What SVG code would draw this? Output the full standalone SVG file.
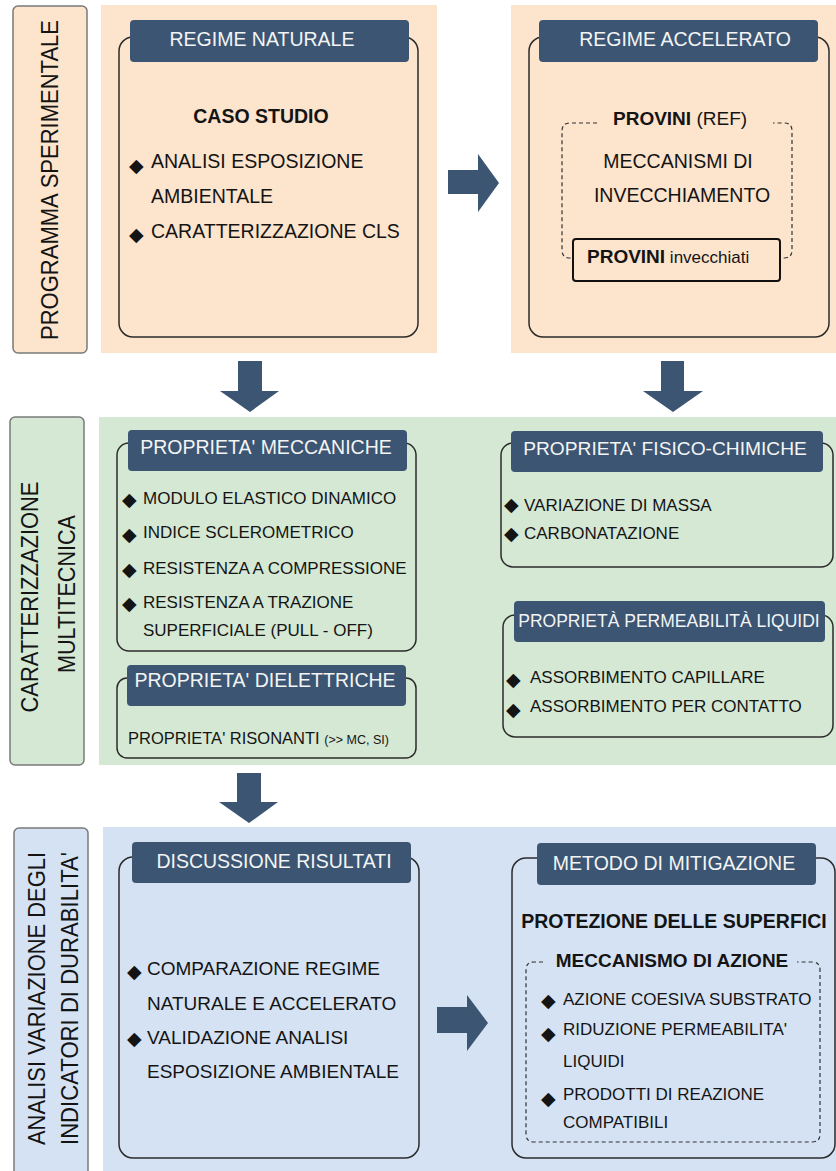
<svg xmlns="http://www.w3.org/2000/svg" width="836" height="1171" viewBox="0 0 836 1171">
<style>
text{font-family:"Liberation Sans",Arial,sans-serif;fill:#141414}
.hd{fill:#3b5573}
.ht{fill:#f4f4f4;font-size:19.5px;text-anchor:middle}
.box{fill:none;stroke:#2b2b2b;stroke-width:1.5}
.lab{stroke:#7a7a7a;stroke-width:1.5}
.vl{font-size:23px}
.b{font-weight:bold}
.f19{font-size:19.5px}
.f17{font-size:17px}
.dia{font-family:"DejaVu Sans",sans-serif;font-size:19px}
.dash{fill:none;stroke:#333;stroke-width:1.2;stroke-dasharray:4 3}
.arr{fill:#3b5573}
.peach{fill:#fde4cd}
.green{fill:#d5e8d4}
.blue{fill:#d5e2f3}
</style>

<!-- background panels -->
<g id="panels">
<rect class="peach" x="101" y="5" width="336" height="348"/>
<rect class="peach" x="511" y="5" width="325" height="348"/>
<rect class="green" x="99" y="417" width="737" height="348"/>
<rect class="blue" x="103" y="827" width="733" height="350"/>
</g>

<!-- section labels -->
<g id="label-programma">
<rect class="peach lab" x="13" y="6" width="74" height="347" rx="5"/>
<text class="vl" transform="translate(58,180) rotate(-90)" text-anchor="middle" textLength="320" lengthAdjust="spacingAndGlyphs">PROGRAMMA SPERIMENTALE</text>
</g>
<g id="label-caratterizzazione">
<rect class="green lab" x="10" y="417" width="74" height="348" rx="5"/>
<text class="vl" transform="translate(38,597) rotate(-90)" text-anchor="middle" textLength="231" lengthAdjust="spacingAndGlyphs">CARATTERIZZAZIONE</text>
<text class="vl" transform="translate(75,594) rotate(-90)" text-anchor="middle" textLength="158" lengthAdjust="spacingAndGlyphs">MULTITECNICA</text>
</g>
<g id="label-analisi">
<rect class="blue lab" x="14" y="828" width="74" height="360" rx="5"/>
<text class="vl" transform="translate(45,998.5) rotate(-90)" text-anchor="middle" textLength="293" lengthAdjust="spacingAndGlyphs">ANALISI VARIAZIONE DEGLI</text>
<text class="vl" transform="translate(78,998.5) rotate(-90)" text-anchor="middle" textLength="293" lengthAdjust="spacingAndGlyphs">INDICATORI DI DURABILITA'</text>
</g>

<!-- connectors -->
<g id="connectors">
<polygon class="arr" points="448,170 478,170 478,154 499,183 478,212 478,194 448,194"/>
<polygon class="arr" points="238,361 262,361 262,391 279,391 250,412 220,391 238,391"/>
<polygon class="arr" points="661,361 684,361 684,391 703,391 673,412 643,391 661,391"/>
<polygon class="arr" points="237,773 261,773 261,802 278,802 249,823 219,802 237,802"/>
<polygon class="arr" points="437,1007 467,1007 467,995 488,1023 467,1051 467,1033 437,1033"/>
</g>

<!-- REGIME NATURALE -->
<g id="regime-naturale">
<rect class="box" x="119" y="37" width="299" height="300" rx="14"/>
<rect class="hd" x="130" y="20" width="279" height="42" rx="4"/>
<text class="ht" x="262" y="46">REGIME NATURALE</text>
<text class="f19 b" x="261" y="123" text-anchor="middle">CASO STUDIO</text>
<text class="dia" x="129" y="172">◆</text>
<text class="f19" x="151" y="168">ANALISI ESPOSIZIONE</text>
<text class="f19" x="151" y="203">AMBIENTALE</text>
<text class="dia" x="129" y="241">◆</text>
<text class="f19" x="151" y="238">CARATTERIZZAZIONE CLS</text>
</g>

<!-- REGIME ACCELERATO -->
<g id="regime-accelerato">
<rect class="box" x="529" y="37" width="300" height="300" rx="14"/>
<rect class="hd" x="539" y="20" width="279" height="42" rx="4"/>
<text class="ht" x="685" y="46">REGIME ACCELERATO</text>
<path class="dash" d="M597,123 H570 Q562,123 562,131 V250 Q562,258 570,258 H784 Q792,258 792,250 V131 Q792,123 784,123 H773"/>
<text x="613" y="125" style="font-size:19px"><tspan class="b">PROVINI</tspan> (REF)</text>
<text class="f19" x="678" y="168" text-anchor="middle">MECCANISMI DI</text>
<text class="f19" x="682" y="202" text-anchor="middle">INVECCHIAMENTO</text>
<rect class="peach" x="573" y="239" width="207" height="42" rx="3" style="stroke:#111;stroke-width:2"/>
<text x="587" y="263"><tspan class="b" style="font-size:19px">PROVINI</tspan><tspan style="font-size:17px"> invecchiati</tspan></text>
</g>

<!-- PROPRIETA' MECCANICHE -->
<g id="proprieta-meccaniche">
<rect class="box" x="117" y="443" width="299" height="208" rx="12"/>
<rect class="hd" x="128" y="430" width="279" height="41" rx="4"/>
<text class="ht" x="266" y="454">PROPRIETA' MECCANICHE</text>
<text class="dia" x="122" y="506">◆</text>
<text class="f17" x="143" y="504">MODULO ELASTICO DINAMICO</text>
<text class="dia" x="122" y="541">◆</text>
<text class="f17" x="143" y="538">INDICE SCLEROMETRICO</text>
<text class="dia" x="122" y="576">◆</text>
<text class="f17" x="143" y="574">RESISTENZA A COMPRESSIONE</text>
<text class="dia" x="122" y="610">◆</text>
<text class="f17" x="143" y="608">RESISTENZA A TRAZIONE</text>
<text class="f17" x="143" y="636">SUPERFICIALE (PULL - OFF)</text>
</g>

<!-- PROPRIETA' DIELETTRICHE -->
<g id="proprieta-dielettriche">
<rect class="box" x="117" y="678" width="299" height="80" rx="10"/>
<rect class="hd" x="127" y="665" width="279" height="41" rx="4"/>
<text class="ht" x="265" y="687">PROPRIETA' DIELETTRICHE</text>
<text x="128" y="744" style="font-size:16.5px">PROPRIETA' RISONANTI <tspan style="font-size:12.5px">(&gt;&gt; MC, SI)</tspan></text>
</g>

<!-- PROPRIETA' FISICO-CHIMICHE -->
<g id="proprieta-fisico-chimiche">
<rect class="box" x="501" y="443" width="332" height="124" rx="12"/>
<rect class="hd" x="511" y="431" width="312" height="41" rx="4"/>
<text class="ht" x="665" y="455" style="font-size:19.2px">PROPRIETA' FISICO-CHIMICHE</text>
<text class="dia" x="504" y="511">◆</text>
<text class="f17" x="524" y="511">VARIAZIONE DI MASSA</text>
<text class="dia" x="504" y="540">◆</text>
<text class="f17" x="524" y="539">CARBONATAZIONE</text>
</g>

<!-- PROPRIETA' PERMEABILITA' LIQUIDI -->
<g id="proprieta-permeabilita">
<rect class="box" x="503" y="615" width="330" height="122" rx="12"/>
<rect class="hd" x="514" y="601" width="311" height="41" rx="4"/>
<text class="ht" x="669" y="627" style="font-size:17.5px">PROPRIETÀ PERMEABILITÀ LIQUIDI</text>
<text class="dia" x="506" y="686">◆</text>
<text class="f17" x="530" y="683">ASSORBIMENTO CAPILLARE</text>
<text class="dia" x="506" y="716">◆</text>
<text class="f17" x="530" y="712">ASSORBIMENTO PER CONTATTO</text>
</g>

<!-- DISCUSSIONE RISULTATI -->
<g id="discussione-risultati">
<rect class="box" x="119" y="857" width="300" height="301" rx="14"/>
<rect class="hd" x="132" y="842" width="279" height="41" rx="4"/>
<text class="ht" x="274" y="868">DISCUSSIONE RISULTATI</text>
<text class="dia" x="127" y="978">◆</text>
<text x="147" y="975" style="font-size:19px">COMPARAZIONE REGIME</text>
<text x="147" y="1010" style="font-size:19px">NATURALE E ACCELERATO</text>
<text class="dia" x="127" y="1045">◆</text>
<text x="147" y="1044" style="font-size:19px">VALIDAZIONE ANALISI</text>
<text x="147" y="1078" style="font-size:19px">ESPOSIZIONE AMBIENTALE</text>
</g>

<!-- METODO DI MITIGAZIONE -->
<g id="metodo-mitigazione">
<rect class="box" x="512" y="858" width="323" height="300" rx="14"/>
<rect class="hd" x="537" y="843" width="279" height="42" rx="4"/>
<text class="ht" x="674" y="870">METODO DI MITIGAZIONE</text>
<text class="f19 b" x="674" y="928" text-anchor="middle">PROTEZIONE DELLE SUPERFICI</text>
<path class="dash" d="M543,962 H534 Q526,962 526,970 V1134 Q526,1142 534,1142 H812 Q820,1142 820,1134 V970 Q820,962 812,962 H797"/>
<text class="b" x="672" y="967" text-anchor="middle" style="font-size:19px">MECCANISMO DI AZIONE</text>
<text class="dia" x="541" y="1007">◆</text>
<text class="f17" x="563" y="1005">AZIONE COESIVA SUBSTRATO</text>
<text class="dia" x="541" y="1040">◆</text>
<text class="f17" x="563" y="1035">RIDUZIONE PERMEABILITA'</text>
<text class="f17" x="563" y="1067">LIQUIDI</text>
<text class="dia" x="541" y="1105">◆</text>
<text class="f17" x="563" y="1100">PRODOTTI DI REAZIONE</text>
<text class="f17" x="563" y="1128">COMPATIBILI</text>
</g>
</svg>
